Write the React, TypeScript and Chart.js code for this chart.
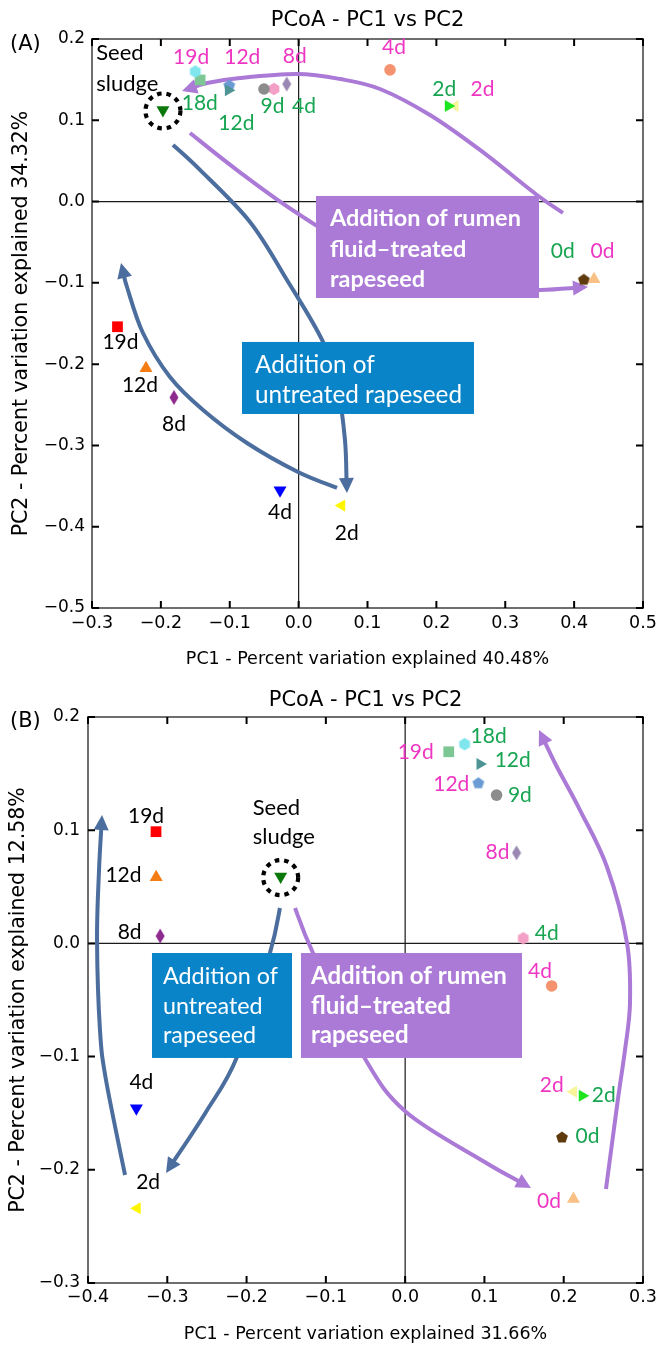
import React, { useEffect, useRef } from 'react';
import { Chart, registerables } from 'chart.js';
Chart.register(...registerables);

// ================= DATA =================
const untreatedDays = ['2d', '4d', '8d', '12d', '19d'];
const greenDays = ['0d', '2d', '4d', '9d', '12d', '18d'];
const pinkDays = ['0d', '2d', '4d', '8d', '12d', '19d'];
const seedLabelLines = ['Seed', 'sludge'];

// Panel A
const untreatedA_pc1 = [0.0625, -0.027, -0.181, -0.2216, -0.263];
const untreatedA_pc2 = [-0.374, -0.355, -0.241, -0.205, -0.154];
const seedA_pc1 = [-0.197];
const seedA_pc2 = [0.1127];
const greenA_pc1 = [0.414, 0.2173, -0.0358, -0.0503, -0.102, -0.150];
const greenA_pc2 = [-0.0956, 0.1176, 0.1385, 0.1385, 0.137, 0.160];
const pinkA_pc1 = [0.4289, 0.227, 0.1327, -0.0173, -0.1007, -0.143];
const pinkA_pc2 = [-0.0956, 0.1176, 0.162, 0.1446, 0.1434, 0.1496];

// Panel B
const untreatedB_pc1 = [-0.338, -0.339, -0.309, -0.314, -0.3142];
const untreatedB_pc2 = [-0.234, -0.1457, 0.0065, 0.0584, 0.0987];
const seedB_pc1 = [-0.157];
const seedB_pc2 = [0.059];
const greenB_pc1 = [0.1978, 0.2234, 0.149, 0.1153, 0.0944, 0.075];
const greenB_pc2 = [-0.171, -0.1346, 0.0045, 0.131, 0.1585, 0.176];
const pinkB_pc1 = [0.2123, 0.2123, 0.1848, 0.1405, 0.0923, 0.055];
const pinkB_pc2 = [-0.2258, -0.131, -0.0376, 0.080, 0.142, 0.1693];

const xTicksA = [-0.3, -0.2, -0.1, 0, 0.1, 0.2, 0.3, 0.4, 0.5];
const yTicksA = [-0.5, -0.4, -0.3, -0.2, -0.1, 0, 0.1, 0.2];
const xTicksB = [-0.4, -0.3, -0.2, -0.1, 0, 0.1, 0.2, 0.3];
const yTicksB = [-0.3, -0.2, -0.1, 0, 0.1, 0.2];

const chartTitle = 'PCoA - PC1 vs PC2';
const xTitleA = 'PC1 - Percent variation explained 40.48%';
const yTitleA = 'PC2 - Percent variation explained 34.32%';
const xTitleB = 'PC1 - Percent variation explained 31.66%';
const yTitleB = 'PC2 - Percent variation explained 12.58%';

const untreatedBoxLinesA = ['Addition of', 'untreated rapeseed'];
const rumenBoxLinesA = ['Addition of rumen', 'fluid\u2013treated', 'rapeseed'];
const untreatedBoxLinesB = ['Addition of', 'untreated', 'rapeseed'];
const rumenBoxLinesB = ['Addition of rumen', 'fluid\u2013treated', 'rapeseed'];

// ================= STYLES =================
type Mk = { shape: string; color: string };
const untreatedMarkers: Mk[] = [
  { shape: 'triLeft', color: '#FFF500' },
  { shape: 'triDown', color: '#0000FF' },
  { shape: 'diamond', color: '#8E2A8E' },
  { shape: 'triUp', color: '#F57C12' },
  { shape: 'square', color: '#FF0000' },
];
const greenMarkers: Mk[] = [
  { shape: 'pentagon', color: '#5E3A0C' },
  { shape: 'triRight', color: '#1EE61E' },
  { shape: 'hexagon', color: '#F4A0C6' },
  { shape: 'circle', color: '#8C8C8C' },
  { shape: 'triRight', color: '#4F9494' },
  { shape: 'hexagon', color: '#80E6EE' },
];
const pinkMarkers: Mk[] = [
  { shape: 'triUp', color: '#F8C084' },
  { shape: 'triLeft', color: '#FAF59A' },
  { shape: 'circle', color: '#F59270' },
  { shape: 'diamond', color: '#9A88B2' },
  { shape: 'pentagon', color: '#6B9BD4' },
  { shape: 'square', color: '#7CC794' },
];
const seedMarkers: Mk[] = [{ shape: 'triDown', color: '#0A780A' }];

const PINK = '#EE36C2';
const GREEN = '#17A552';
const BLUE_ARROW = '#4B6E9E';
const PURPLE = '#AA7AD6';
const BLUE_BOX = '#0A84C8';

// ================= LAYOUT (annotations) =================
const layoutA = {
  tag: '(A)', padTop: 39, padRight: 26, yAxisW: 92, xAxisH: 68, yTickPad: 7, xTickPad: 4.5,
  xTitlePad: 6, yTitlePad: 9, titleY: 21, tagY: 45,
  untreatedOff: [[5, 34], [0, 29], [0, 34], [-6, 24], [3, 22]],
  greenOff: [[-21, -21], [-4, -10], [30, 24], [8.5, 24], [8, 40], [4.5, 38]],
  pinkOff: [[8.5, -21], [27.5, -10], [4, -16], [8, -21], [13, -21], [-9, -16]],
  seedOff: [-66.7, -50, -19],
  boxes: [
    { x0: -0.0822, x1: 0.2546, y0: -0.1727, y1: -0.2613, color: BLUE_BOX, bold: false, lines: untreatedBoxLinesA, padX: 13, base: 31, gap: 30, fit: 207 },
    { x0: 0.0252, x1: 0.349, y0: 0.0069, y1: -0.1186, color: PURPLE, bold: true, lines: rumenBoxLinesA, padX: 14, base: 30, gap: 30.7, fit: 191 },
  ],
  arrows: [
    { color: PURPLE, pts: [[0.3838, -0.0140], [0.3461, 0.0081], [0.2633, 0.0635], [0.1907, 0.1065], [0.1181, 0.1385], [0.0601, 0.1508], [-0.0024, 0.1569], [-0.0851, 0.1520], [-0.1330, 0.1459], [-0.1693, 0.1360]] },
    { color: PURPLE, pts: [[-0.1577, 0.0844], [-0.0895, 0.0388], [0.0020, -0.0165], [0.1472, -0.0903], [0.2633, -0.1112], [0.3505, -0.1088], [0.4201, -0.1051]] },
    { color: BLUE_ARROW, pts: [[-0.1824, 0.0696], [-0.1432, 0.0389], [-0.0706, -0.0251], [-0.0169, -0.0965], [0.0354, -0.1727], [0.0572, -0.2318], [0.0673, -0.2933], [0.0702, -0.3585]] },
    { color: BLUE_ARROW, pts: [[0.0557, -0.3523], [-0.0009, -0.3327], [-0.0750, -0.2970], [-0.1388, -0.2564], [-0.1868, -0.2158], [-0.2260, -0.1617], [-0.2492, -0.1051], [-0.2579, -0.0756]] },
  ],
};

const layoutB = {
  tag: '(B)', padTop: 41, padRight: 26, yAxisW: 88, xAxisH: 69, yTickPad: 8, xTickPad: 4,
  xTitlePad: 7, yTitlePad: 6, titleY: 24.5, tagY: 45.7,
  untreatedOff: [[11, -19], [5, -19], [-30.5, 3.3], [-32.7, 4.4], [-10, -8.4]],
  greenOff: [[25.5, 6.4], [21.4, 6], [23.4, 1.7], [23.3, 6.7], [32.7, 2.7], [24, -1]],
  pinkOff: [[-24.5, 9], [-21.8, 0.6], [-11.7, -7.7], [-19, 6.6], [-27, 8], [-33, 7.6]],
  seedOff: [-28, -61.7, -32.7],
  boxes: [
    { x0: -0.3193, x1: -0.1427, y0: -0.0085, y1: -0.1012, color: BLUE_BOX, bold: false, lines: untreatedBoxLinesB, padX: 11, base: 31, gap: 29.5, fit: 115 },
    { x0: -0.1314, x1: 0.1474, y0: -0.0085, y1: -0.1012, color: PURPLE, bold: true, lines: rumenBoxLinesB, padX: 10, base: 31, gap: 29.5, fit: 196 },
  ],
  arrows: [
    { color: BLUE_ARROW, pts: [[-0.3533, -0.2046], [-0.3773, -0.1207], [-0.3849, -0.0765], [-0.3886, 0.0030], [-0.3861, 0.0648], [-0.3823, 0.1134]] },
    { color: BLUE_ARROW, pts: [[-0.1579, 0.0313], [-0.1705, -0.0085], [-0.2121, -0.1004], [-0.2512, -0.1489], [-0.3016, -0.2028]] },
    { color: PURPLE, pts: [[-0.1389, 0.0313], [-0.1162, -0.0085], [-0.0519, -0.1004], [0.0011, -0.1489], [0.0982, -0.1922], [0.1587, -0.2161]] },
    { color: PURPLE, pts: [[0.2533, -0.2170], [0.2684, -0.1375], [0.2773, -0.0942], [0.2836, -0.0527], [0.2798, 0.0004], [0.2546, 0.0675], [0.2205, 0.1178], [0.1915, 0.1558], [0.1688, 0.1885]] },
  ],
};

const panelA = {
  xMin: -0.3, xMax: 0.5, yMin: -0.5, yMax: 0.2, xTicks: xTicksA, yTicks: yTicksA,
  xTitle: xTitleA, yTitle: yTitleA,
  untreated: [untreatedA_pc1, untreatedA_pc2], seed: [seedA_pc1, seedA_pc2],
  green: [greenA_pc1, greenA_pc2], pink: [pinkA_pc1, pinkA_pc2], L: layoutA,
};
const panelB = {
  xMin: -0.4, xMax: 0.3, yMin: -0.3, yMax: 0.2, xTicks: xTicksB, yTicks: yTicksB,
  xTitle: xTitleB, yTitle: yTitleB,
  untreated: [untreatedB_pc1, untreatedB_pc2], seed: [seedB_pc1, seedB_pc2],
  green: [greenB_pc1, greenB_pc2], pink: [pinkB_pc1, pinkB_pc2], L: layoutB,
};

// ================= HELPERS =================
function fmt(v: number) {
  const n = Math.round(Number(v) * 10) / 10;
  return (n < 0 ? '\u2212' : '') + Math.abs(n).toFixed(1);
}

function shapeCanvas(kind: string, color: string) {
  const c = document.createElement('canvas');
  const W = kind === 'diamond' ? 10 : 14;
  const H = kind === 'diamond' ? 16 : 14;
  c.width = W; c.height = H;
  const g = c.getContext('2d')!;
  g.fillStyle = color;
  g.beginPath();
  if (kind === 'diamond') {
    g.moveTo(W / 2, 0.5); g.lineTo(W - 0.5, H / 2); g.lineTo(W / 2, H - 0.5); g.lineTo(0.5, H / 2);
  } else {
    const n = kind === 'pentagon' ? 5 : 6;
    const r = 6.2;
    for (let i = 0; i < n; i++) {
      const a = -Math.PI / 2 + (i * 2 * Math.PI) / n;
      const px = W / 2 + r * Math.cos(a), py = H / 2 + (kind === 'pentagon' ? 0.6 : 0) + r * Math.sin(a);
      if (i === 0) g.moveTo(px, py); else g.lineTo(px, py);
    }
  }
  g.closePath();
  g.fill();
  return c;
}

function markerProps(m: Mk) {
  switch (m.shape) {
    case 'triUp': return { style: 'triangle', r: 7.5, rot: 0 };
    case 'triDown': return { style: 'triangle', r: 7.5, rot: 180 };
    case 'triLeft': return { style: 'triangle', r: 7, rot: 270 };
    case 'triRight': return { style: 'triangle', r: 7, rot: 90 };
    case 'square': return { style: 'rect', r: 7.6, rot: 0 };
    case 'circle': return { style: 'circle', r: 5.8, rot: 0 };
    default: return { style: shapeCanvas(m.shape, m.color), r: 6, rot: 0 };
  }
}

function makeDataset(pc: number[][], markers: Mk[]) {
  const props = markers.map(markerProps);
  return {
    data: pc[0].map((x, i) => ({ x, y: pc[1][i] })),
    pointStyle: props.map((p) => p.style),
    pointRadius: props.map((p) => p.r),
    pointRotation: props.map((p) => p.rot),
    backgroundColor: markers.map((m) => m.color),
    borderWidth: 0,
    borderColor: 'rgba(0,0,0,0)',
    showLine: false,
  };
}

function drawArrow(ctx: CanvasRenderingContext2D, pts: number[][], color: string) {
  const n = pts.length;
  const tip = pts[n - 1], prev = pts[n - 2];
  let dx = tip[0] - prev[0], dy = tip[1] - prev[1];
  const len = Math.hypot(dx, dy); dx /= len; dy /= len;
  const headLen = 15, headW = 7.5;
  const base = [tip[0] - dx * headLen * 0.75, tip[1] - dy * headLen * 0.75];
  const P = pts.slice(0, n - 1).concat([base]);
  ctx.save();
  ctx.strokeStyle = color; ctx.lineWidth = 4; ctx.lineCap = 'butt'; ctx.lineJoin = 'round';
  ctx.beginPath();
  ctx.moveTo(P[0][0], P[0][1]);
  for (let i = 0; i < P.length - 1; i++) {
    const p0 = P[Math.max(i - 1, 0)], p1 = P[i], p2 = P[i + 1], p3 = P[Math.min(i + 2, P.length - 1)];
    const c1x = p1[0] + (p2[0] - p0[0]) / 6, c1y = p1[1] + (p2[1] - p0[1]) / 6;
    const c2x = p2[0] - (p3[0] - p1[0]) / 6, c2y = p2[1] - (p3[1] - p1[1]) / 6;
    ctx.bezierCurveTo(c1x, c1y, c2x, c2y, p2[0], p2[1]);
  }
  ctx.stroke();
  ctx.fillStyle = color;
  ctx.beginPath();
  ctx.moveTo(tip[0], tip[1]);
  ctx.lineTo(tip[0] - dx * headLen - dy * headW, tip[1] - dy * headLen + dx * headW);
  ctx.lineTo(tip[0] - dx * headLen + dy * headW, tip[1] - dy * headLen - dx * headW);
  ctx.closePath();
  ctx.fill();
  ctx.restore();
}

function makePlugin(panel: any) {
  const L = panel.L;
  return {
    id: 'pcoaAnnotations',
    beforeDatasetsDraw(chart: any) {
      const { ctx, chartArea: ca } = chart;
      const xs = chart.scales.x, ys = chart.scales.y;
      ctx.save();
      // zero lines
      ctx.strokeStyle = '#1a1a1a'; ctx.lineWidth = 1.2;
      const x0 = xs.getPixelForValue(0), y0 = ys.getPixelForValue(0);
      ctx.beginPath();
      ctx.moveTo(ca.left, y0); ctx.lineTo(ca.right, y0);
      ctx.moveTo(x0, ca.top); ctx.lineTo(x0, ca.bottom);
      ctx.stroke();
      // arrows
      for (const a of L.arrows) {
        drawArrow(ctx, a.pts.map((p: number[]) => [xs.getPixelForValue(p[0]), ys.getPixelForValue(p[1])]), a.color);
      }
      // boxes
      for (const b of L.boxes) {
        const l = xs.getPixelForValue(b.x0), r = xs.getPixelForValue(b.x1);
        const t = ys.getPixelForValue(b.y0), bt = ys.getPixelForValue(b.y1);
        ctx.fillStyle = b.color;
        ctx.fillRect(l, t, r - l, bt - t);
        const w = b.bold ? 'bold ' : '';
        ctx.font = `${w}100px Lato`;
        const wMax = Math.max(...b.lines.map((s: string) => ctx.measureText(s).width));
        const size = (100 * b.fit) / wMax;
        ctx.font = `${w}${size.toFixed(2)}px Lato`;
        ctx.fillStyle = '#ffffff'; ctx.textAlign = 'left'; ctx.textBaseline = 'alphabetic';
        b.lines.forEach((s: string, i: number) => ctx.fillText(s, l + b.padX, t + b.base + i * b.gap));
      }
      // frame
      ctx.strokeStyle = '#6e6e6e'; ctx.lineWidth = 2;
      ctx.strokeRect(ca.left, ca.top, ca.right - ca.left, ca.bottom - ca.top);
      // inward ticks on all sides
      ctx.strokeStyle = '#000'; ctx.lineWidth = 2;
      ctx.beginPath();
      for (const v of panel.xTicks) {
        const px = xs.getPixelForValue(v);
        ctx.moveTo(px, ca.bottom); ctx.lineTo(px, ca.bottom - 7);
        ctx.moveTo(px, ca.top); ctx.lineTo(px, ca.top + 7);
      }
      for (const v of panel.yTicks) {
        const py = ys.getPixelForValue(v);
        ctx.moveTo(ca.left, py); ctx.lineTo(ca.left + 7, py);
        ctx.moveTo(ca.right, py); ctx.lineTo(ca.right - 7, py);
      }
      ctx.stroke();
      ctx.restore();
    },
    afterDatasetsDraw(chart: any) {
      const { ctx, chartArea: ca } = chart;
      ctx.save();
      // dashed circle around seed sludge
      const seedEl = chart.getDatasetMeta(1).data[0];
      ctx.strokeStyle = '#000'; ctx.lineWidth = 4.2; ctx.setLineDash([4.5, 5]);
      ctx.beginPath(); ctx.arc(seedEl.x, seedEl.y + 1, 17.5, 0, Math.PI * 2); ctx.stroke();
      ctx.setLineDash([]);
      // seed label
      ctx.fillStyle = '#000'; ctx.font = '22px Lato'; ctx.textAlign = 'left'; ctx.textBaseline = 'alphabetic';
      ctx.fillText(seedLabelLines[0], seedEl.x + L.seedOff[0], seedEl.y + L.seedOff[1]);
      ctx.fillText(seedLabelLines[1], seedEl.x + L.seedOff[0], seedEl.y + L.seedOff[2]);
      // point labels
      ctx.font = '21px Lato'; ctx.textAlign = 'center';
      const groups = [
        { idx: 0, days: untreatedDays, off: L.untreatedOff, color: '#000' },
        { idx: 2, days: greenDays, off: L.greenOff, color: GREEN },
        { idx: 3, days: pinkDays, off: L.pinkOff, color: PINK },
      ];
      for (const g of groups) {
        const els = chart.getDatasetMeta(g.idx).data;
        ctx.fillStyle = g.color;
        g.days.forEach((d: string, i: number) => {
          const el = els[i];
          ctx.fillText(d, el.x + g.off[i][0], el.y + g.off[i][1]);
        });
      }
      // title and tag
      ctx.fillStyle = '#000'; ctx.textBaseline = 'middle';
      ctx.font = '21px "DejaVu Sans"'; ctx.textAlign = 'center';
      ctx.fillText(chartTitle, (ca.left + ca.right) / 2, L.titleY);
      ctx.textAlign = 'left';
      ctx.fillText(L.tag, 10, L.tagY);
      ctx.restore();
    },
  };
}

function buildConfig(panel: any): any {
  const L = panel.L;
  return {
    type: 'scatter',
    data: {
      datasets: [
        makeDataset(panel.untreated, untreatedMarkers),
        makeDataset(panel.seed, seedMarkers),
        makeDataset(panel.green, greenMarkers),
        makeDataset(panel.pink, pinkMarkers),
      ],
    },
    options: {
      responsive: false,
      animation: false,
      devicePixelRatio: 1,
      events: [],
      layout: { padding: { left: 0, right: L.padRight, top: L.padTop, bottom: 0 } },
      plugins: { legend: { display: false }, tooltip: { enabled: false }, title: { display: false } },
      scales: {
        x: {
          type: 'linear', position: 'bottom', min: panel.xMin, max: panel.xMax,
          afterBuildTicks: (ax: any) => { ax.ticks = panel.xTicks.map((v: number) => ({ value: v })); },
          afterFit: (ax: any) => { ax.height = L.xAxisH; },
          grid: { display: false, drawTicks: false },
          border: { display: false },
          ticks: { color: '#000', font: { family: 'DejaVu Sans', size: 17.5 }, padding: L.xTickPad, maxRotation: 0, autoSkip: false, callback: (v: any) => fmt(v) },
          title: { display: true, text: panel.xTitle, color: '#000', font: { family: 'DejaVu Sans', size: 17.5 }, padding: { top: 0, bottom: L.xTitlePad } },
        },
        y: {
          type: 'linear', position: 'left', min: panel.yMin, max: panel.yMax,
          afterBuildTicks: (ax: any) => { ax.ticks = panel.yTicks.map((v: number) => ({ value: v })); },
          afterFit: (ax: any) => { ax.width = L.yAxisW; },
          grid: { display: false, drawTicks: false },
          border: { display: false },
          ticks: { color: '#000', font: { family: 'DejaVu Sans', size: 17 }, padding: L.yTickPad, autoSkip: false, callback: (v: any) => fmt(v) },
          title: { display: true, text: panel.yTitle, color: '#000', font: { family: 'DejaVu Sans', size: 20.5 }, padding: { top: L.yTitlePad, bottom: 0 } },
        },
      },
    },
    plugins: [makePlugin(panel)],
  };
}

function PanelChart({ panel }: { panel: any }) {
  const ref = useRef<HTMLCanvasElement>(null);
  useEffect(() => {
    const chart = new Chart(ref.current as HTMLCanvasElement, buildConfig(panel));
    return () => chart.destroy();
  }, [panel]);
  return <canvas ref={ref} width={669} height={676} style={{ display: 'block', width: 669, height: 676 }} />;
}

export default function App() {
  return (
    <div style={{ position: 'absolute', left: 0, top: 0, width: 669, height: 1352, background: '#fff' }}>
      <PanelChart panel={panelA} />
      <PanelChart panel={panelB} />
    </div>
  );
}
